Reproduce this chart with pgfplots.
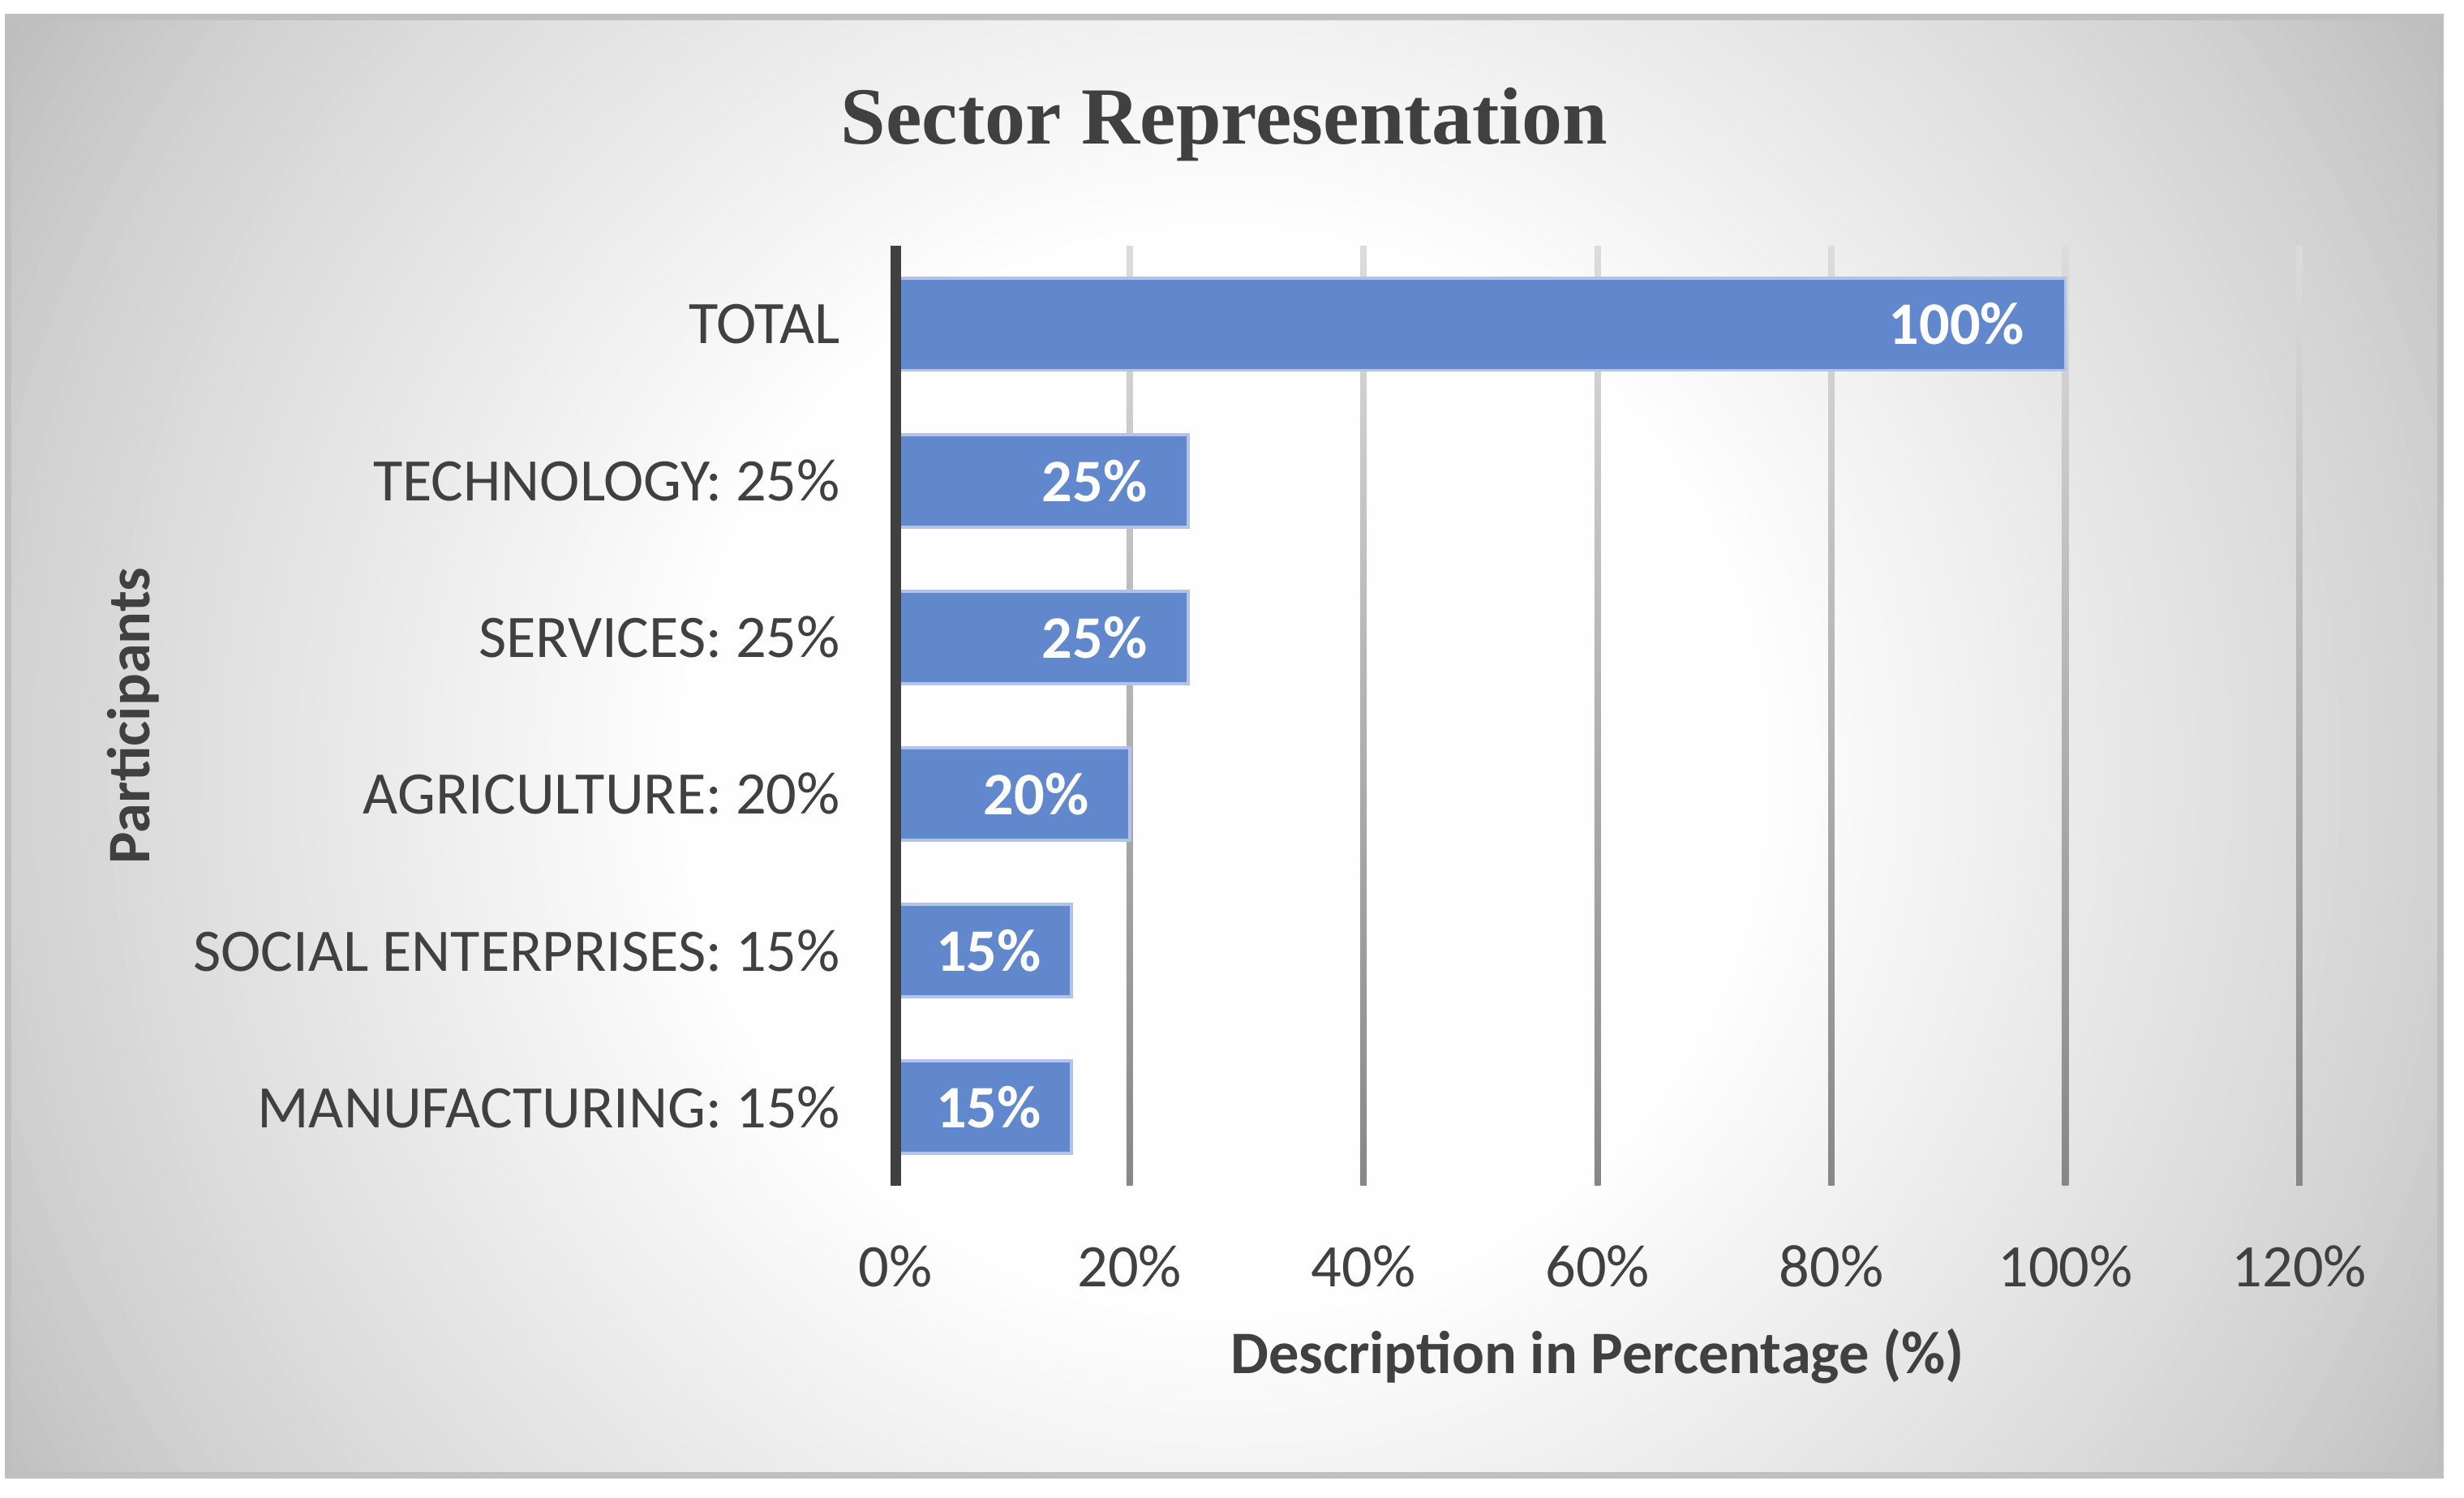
\documentclass[border=0pt]{standalone}
\usepackage{pgfplots}
\pgfplotsset{compat=1.18}
\usepackage{fontspec}
\setmainfont{Carlito}
\newfontfamily\titlefont{Liberation Serif}
\definecolor{txt}{HTML}{404040}
\definecolor{barfill}{HTML}{6187CC}
\definecolor{barline}{HTML}{B1C4E7}
\definecolor{framecol}{HTML}{BFBFBF}
\definecolor{gridtop}{HTML}{DCDCDC}
\definecolor{gridbot}{HTML}{878787}
\newcommand\lab{\fontsize{19.2}{23}\selectfont}
\begin{document}
\begin{tikzpicture}
\path[use as bounding box, fill=white] (-285pt,-99.2pt) rectangle (499pt,377.2pt);
\begin{scope}
\clip (-282.45pt,-92.26pt) rectangle (491.5pt,371.8pt);
\fill[white] (-282.45pt,-92.26pt) rectangle (491.5pt,371.8pt);
\foreach \r in {470,465,...,175}{
  \pgfmathsetmacro\dd{\r-2.5}
  \pgfmathsetmacro\g{\dd<380 ? (255-0.205*(\dd-170)) : (212-0.3*(\dd-380))}
  \pgfmathsetmacro\gg{\g/255}
  \definecolor{ring}{gray}{\gg}
  \fill[ring] (104.7pt,132pt) circle (\r pt);
}
\end{scope}
\draw[framecol, line width=2pt] (-282.45pt,-92.26pt) rectangle (491.5pt,371.8pt);
\begin{axis}[
  at={(0pt,0pt)}, anchor=south west,
  scale only axis, width=446.6pt, height=299pt,
  xbar, bar width=29.4pt,
  xmin=0, xmax=120, ymin=-0.5, ymax=5.5,
  xtick={0,20,40,60,80,100,120},
  ytick={0,1,2,3,4,5},
  yticklabels={MANUFACTURING: 15\%, SOCIAL ENTERPRISES: 15\%, AGRICULTURE: 20\%, SERVICES: 25\%, TECHNOLOGY: 25\%, TOTAL},
  xticklabel={\pgfmathprintnumber[assume math mode=true]{\tick}\%},
  major tick length=0pt,
  axis line style={draw=none},
  xticklabel style={font=\lab, text=txt, anchor=north, inner sep=0pt, yshift=-19pt},
  yticklabel style={font=\lab, text=txt, anchor=east, inner sep=0pt, xshift=-17.5pt},
  xlabel={Description in Percentage (\%)},
  xlabel style={at={(rel axis cs:0.5,0)}, anchor=north, inner sep=0pt, yshift=-45.5pt, font=\lab\bfseries, text=txt},
  ylabel={Participants},
  ylabel style={at={(rel axis cs:0,0.5)}, anchor=center, inner sep=0pt, yshift=242.5pt, font=\lab\bfseries, text=txt},
  title={Sector Representation},
  title style={at={(rel axis cs:0,1)}, anchor=base, inner sep=0pt, xshift=104.5pt, yshift=26.5pt, font=\titlefont\bfseries\fontsize{25.8}{30}\selectfont, text=txt},
  clip=false,
]
\shade[top color=gridtop, bottom color=gridbot] ([xshift=-1pt]axis cs:20,-0.5) rectangle ([xshift=1pt]axis cs:20,5.5);
\shade[top color=gridtop, bottom color=gridbot] ([xshift=-1pt]axis cs:40,-0.5) rectangle ([xshift=1pt]axis cs:40,5.5);
\shade[top color=gridtop, bottom color=gridbot] ([xshift=-1pt]axis cs:60,-0.5) rectangle ([xshift=1pt]axis cs:60,5.5);
\shade[top color=gridtop, bottom color=gridbot] ([xshift=-1pt]axis cs:80,-0.5) rectangle ([xshift=1pt]axis cs:80,5.5);
\shade[top color=gridtop, bottom color=gridbot] ([xshift=-1pt]axis cs:100,-0.5) rectangle ([xshift=1pt]axis cs:100,5.5);
\shade[top color=gridtop, bottom color=gridbot] ([xshift=-1pt]axis cs:120,-0.5) rectangle ([xshift=1pt]axis cs:120,5.5);
\addplot[fill=barfill, draw=barline, line width=1pt,
  visualization depends on={x \as \xval},
  nodes near coords={\pgfmathprintnumber[assume math mode=true]{\pgfplotspointmeta}\%},
  nodes near coords style={anchor=east, xshift={(\xval<17)*3.5pt-12.5pt}, inner sep=0pt, text=white, font=\lab\bfseries}]
  coordinates {(15,0) (15,1) (20,2) (25,3) (25,4) (100,5)};
\draw[txt, line width=3.35pt] (rel axis cs:0,0) -- (rel axis cs:0,1);
\end{axis}
\end{tikzpicture}
\end{document}
